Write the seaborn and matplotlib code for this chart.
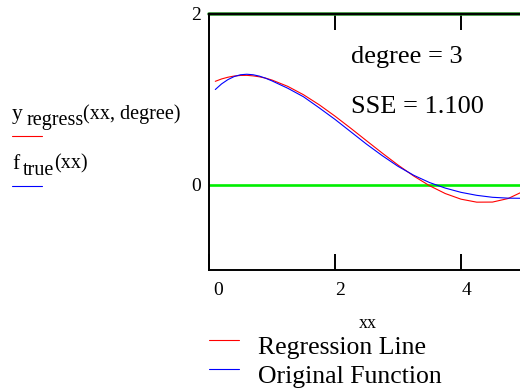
import numpy as np
import pandas as pd
import seaborn as sns
import matplotlib
matplotlib.use("Agg")
import matplotlib.pyplot as plt
from matplotlib.lines import Line2D
import matplotlib.transforms as mtransforms

# ---- data ----
xx = [0.1, 0.2, 0.3, 0.4, 0.5, 0.6, 0.7, 0.8, 0.9, 1.0, 1.25, 1.5, 1.75,
      2.0, 2.25, 2.5, 2.75, 3.0, 3.25, 3.5, 3.75, 4.0, 4.25, 4.5, 4.75, 5.0]
y_regress = [1.211, 1.239, 1.259, 1.273, 1.280, 1.281, 1.275, 1.264, 1.248,
             1.226, 1.152, 1.054, 0.936, 0.803, 0.661, 0.515, 0.370, 0.230,
             0.101, -0.012, -0.104, -0.170, -0.205, -0.204, -0.162, -0.074]
f_true = [1.115, 1.181, 1.231, 1.267, 1.288, 1.294, 1.288, 1.272, 1.247,
          1.216, 1.130, 1.030, 0.900, 0.765, 0.620, 0.475, 0.340, 0.215,
          0.110, 0.025, -0.040, -0.090, -0.125, -0.148, -0.158, -0.160]
series_names = ["Regression Line", "Original Function"]
x_ticks = [0, 2, 4]
y_ticks = [0, 2]
degree = 3
sse = 1.100

df = pd.DataFrame({
    "xx": xx + xx,
    "value": y_regress + f_true,
    "series": [series_names[0]] * len(xx) + [series_names[1]] * len(xx),
})

sns.set_theme(style="white")
plt.rcParams["font.family"] = ["Liberation Serif", "DejaVu Serif"]
plt.rcParams["text.color"] = "black"

W, H = 520, 389
fig = plt.figure(figsize=(W / 100, H / 100), dpi=100)

def fx(px):
    return px / W

def fy(py):
    return 1 - py / H

left, right, top, bottom = 209, 524, 14, 270
ax = fig.add_axes([fx(left), fy(bottom), (right - left) / W, (bottom - top) / H])
ax.set_xlim(0, 5)
ax.set_ylim(-1, 2)

ax.axhline(0, color="#00ee00", lw=1.9, zorder=1)
ax.axhline(2, color="#2a8a2a", lw=2.6, zorder=1, clip_on=False)

colors = {series_names[0]: "#ff0000", series_names[1]: "#0000ff"}
sns.lineplot(data=df, x="xx", y="value", hue="series", palette=colors,
             linewidth=0.8, legend=False, ax=ax, zorder=3)

for side in ["left", "top", "bottom"]:
    ax.spines[side].set_visible(True)
    ax.spines[side].set_color("black")
    ax.spines[side].set_linewidth(1.4)
ax.spines["right"].set_visible(False)

ax.set_xticks(x_ticks)
ax.set_xticklabels([str(t) for t in x_ticks])
ax.set_yticks(y_ticks)
ax.set_yticklabels([str(t) for t in y_ticks])
ax.tick_params(axis="x", direction="in", length=11.5, width=1.4, top=True,
               bottom=True, labelsize=14, pad=8.5, colors="black")
ax.tick_params(axis="y", length=0, labelsize=14, pad=6, colors="black")
for lab, dx in zip(ax.get_xticklabels(), [9, 5, 6]):
    off = mtransforms.ScaledTranslation(dx / 100, 0, fig.dpi_scale_trans)
    lab.set_transform(lab.get_transform() + off)
ax.set_xlabel("")
ax.set_ylabel("")
ax.grid(False)

# axis label
fig.text(fx(368), fy(324), "xx", fontsize=13, ha="center", va="center")

# annotations inside plot
fig.text(fx(351), fy(63.5), f"degree = {degree}", fontsize=19, va="baseline")
fig.text(fx(351), fy(112.7), f"SSE = {sse:.3f}", fontsize=19, va="baseline")

# left-side trace labels (Mathcad style)
fig.text(fx(12), fy(119), "y", fontsize=15.5, va="baseline")
fig.text(fx(27), fy(125), "regress", fontsize=14.5, va="baseline")
fig.text(fx(83), fy(119), "(xx, degree)", fontsize=14.5, va="baseline")
fig.text(fx(12), fy(169), "f", fontsize=15.5, va="baseline")
fig.text(fx(23), fy(175), "true", fontsize=14.5, va="baseline")
fig.text(fx(54), fy(168), "(xx)", fontsize=14.5, va="baseline")
fig.add_artist(Line2D([fx(12), fx(42)], [fy(136), fy(136)], color="#ff0000",
                      lw=0.8, transform=fig.transFigure))
fig.add_artist(Line2D([fx(12), fx(42)], [fy(186), fy(186)], color="#0000ff",
                      lw=0.8, transform=fig.transFigure))

# bottom legend (Mathcad style)
for name, ly, by in zip(series_names, [340, 369], [354, 383]):
    fig.add_artist(Line2D([fx(209), fx(239)], [fy(ly), fy(ly)],
                          color=colors[name], lw=0.8,
                          transform=fig.transFigure))
    fig.text(fx(258), fy(by), name, fontsize=18.5, va="baseline")

fig.savefig("out.png", dpi=100)
